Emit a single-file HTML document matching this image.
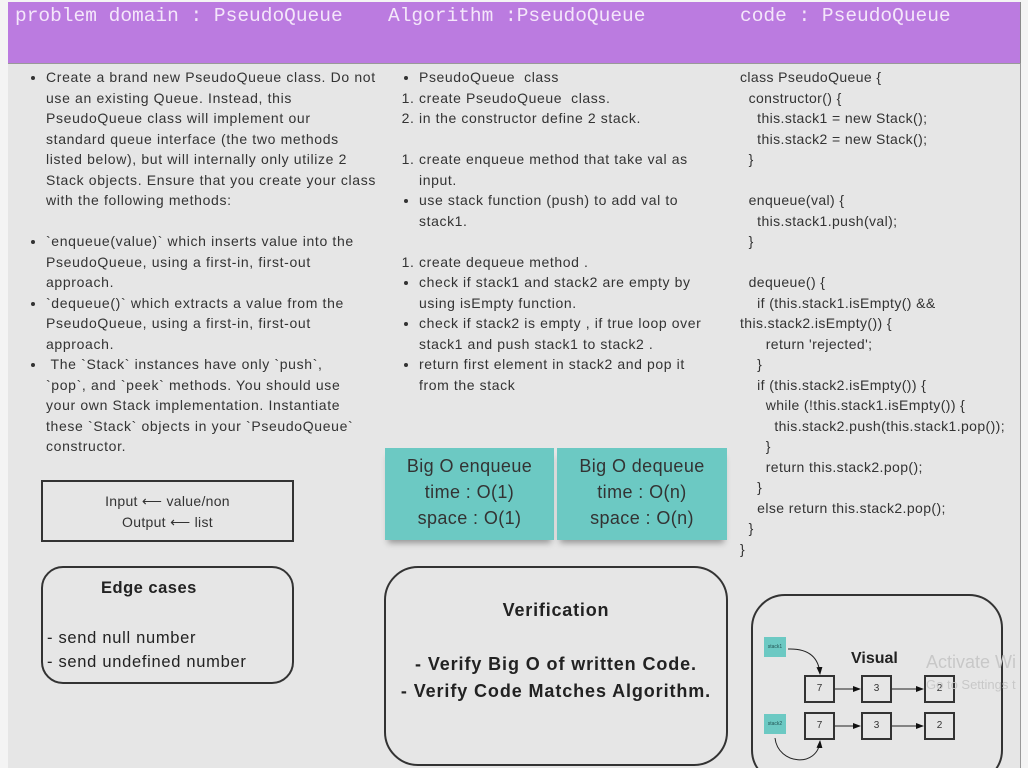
<!DOCTYPE html>
<html><head><meta charset="utf-8"><style>
*{margin:0;padding:0;box-sizing:border-box}
html,body{width:1028px;height:768px;overflow:hidden}
body{position:relative;background:#f4f4f4;font-family:"Liberation Sans",sans-serif;color:#333}
.a{position:absolute}
.hd{background:#bb7be0;top:2px;height:61px;color:#f4e6fa;font-family:"Liberation Mono",monospace;font-size:19.5px;padding:3px 0 0 7px;border-right:1px solid #8a8a8a}
.col{background:#e6e6e6;top:63px;height:705px;border-right:1px solid #999;border-top:1px solid #999}
.t{font-size:14px;line-height:20.5px;letter-spacing:0.6px}
ul,ol{padding-left:38px}
.box{border:2px solid #333}
.st{background:#6cc9c3;box-shadow:0 6px 6px -3px rgba(0,0,0,.35);text-align:center;font-size:18px;line-height:26px;color:#333;padding-top:5px;letter-spacing:0.4px}
.n{position:absolute;width:31px;height:28px;border:2px solid #333;font-size:10px;text-align:center;line-height:24px;background:#e6e6e6}
.sk{position:absolute;width:22px;height:20px;background:#6cc9c3;font-size:5px;text-align:center;line-height:20px;color:#255}
</style></head><body>
<div class="a col" style="left:8px;width:374px"></div>
<div class="a col" style="left:381px;width:353px"></div>
<div class="a col" style="left:733px;width:288px"></div>
<div class="a hd" style="left:8px;width:374px">problem domain : PseudoQueue</div>
<div class="a hd" style="left:381px;width:353px">Algorithm :PseudoQueue</div>
<div class="a hd" style="left:733px;width:288px">code : PseudoQueue</div>

<div class="a t" style="left:8px;top:67px;width:372px;letter-spacing:0.65px;white-space:nowrap">
<ul style="padding-left:38px;list-style:disc">
<li>Create a brand new PseudoQueue class. Do not<br>use an existing Queue. Instead, this<br>PseudoQueue class will implement our<br>standard queue interface (the two methods<br>listed below), but will internally only utilize 2<br>Stack objects. Ensure that you create your class<br>with the following methods:</li>
<li style="list-style:none">&nbsp;</li>
<li>`enqueue(value)` which inserts value into the<br>PseudoQueue, using a first-in, first-out<br>approach.</li>
<li>`dequeue()` which extracts a value from the<br>PseudoQueue, using a first-in, first-out<br>approach.</li>
<li>&nbsp;The `Stack` instances have only `push`,<br>`pop`, and `peek` methods. You should use<br>your own Stack implementation. Instantiate<br>these `Stack` objects in your `PseudoQueue`<br>constructor.</li>
</ul></div>

<div class="a box t" style="left:41px;top:480px;width:253px;height:62px;text-align:center;padding-top:9px;letter-spacing:0.3px">Input ⟵ value/non<br>Output ⟵ list</div>
<div class="a box" style="left:41px;top:566px;width:253px;height:118px;border-radius:22px;font-size:16.5px;color:#222;letter-spacing:0.7px">
<div style="position:absolute;left:58px;top:11px;font-weight:bold;letter-spacing:0.5px">Edge cases</div>
<div style="position:absolute;left:4px;top:58px;line-height:24px">- send null number<br>- send undefined number</div></div>

<div class="a t" style="left:381px;top:67px;width:336px">
<ul style="list-style:disc"><li>PseudoQueue &nbsp;class</li></ul>
<ol><li>create PseudoQueue &nbsp;class.</li><li>in the constructor define 2 stack.</li></ol>
<div>&nbsp;</div>
<ol><li>create enqueue method that take val as input.</li></ol>
<ul><li>use stack function (push) to add val to stack1.</li></ul>
<div>&nbsp;</div>
<ol><li>create dequeue method .</li></ol>
<ul><li>check if stack1 and stack2 are empty by using isEmpty function.</li><li>check if stack2 is empty , if true loop over stack1 and push stack1 to stack2 .</li><li>return first element in stack2 and pop it from the stack</li></ul>
</div>

<div class="a st" style="left:385px;top:448px;width:169px;height:92px">Big O enqueue<br>time : O(1)<br>space : O(1)</div>
<div class="a st" style="left:557px;top:448px;width:170px;height:92px">Big O dequeue<br>time : O(n)<br>space : O(n)</div>

<div class="a box" style="left:384px;top:566px;width:344px;height:200px;border-radius:34px;text-align:center;font-weight:bold;font-size:18px;color:#222;letter-spacing:0.9px">
<div style="margin-top:32px;letter-spacing:0.8px">Verification</div>
<div style="margin-top:30px;line-height:27px">- Verify Big O of written Code.<br>- Verify Code Matches Algorithm.</div></div>

<div class="a t" style="left:740px;top:67px;white-space:pre;color:#333;letter-spacing:0.4px">class PseudoQueue {
  constructor() {
    this.stack1 = new Stack();
    this.stack2 = new Stack();
  }

  enqueue(val) {
    this.stack1.push(val);
  }

  dequeue() {
    if (this.stack1.isEmpty() &amp;&amp;
this.stack2.isEmpty()) {
      return 'rejected';
    }
    if (this.stack2.isEmpty()) {
      while (!this.stack1.isEmpty()) {
        this.stack2.push(this.stack1.pop());
      }
      return this.stack2.pop();
    }
    else return this.stack2.pop();
  }
}</div>

<div class="a box" style="left:751px;top:594px;width:252px;height:190px;border-radius:34px"></div>
<div class="a" style="left:851px;top:650px;font-weight:bold;font-size:16px;color:#222">Visual</div>
<div class="sk" style="left:764px;top:637px">stack1</div>
<div class="sk" style="left:764px;top:714px">stack2</div>
<div class="n" style="left:804px;top:675px">7</div>
<div class="n" style="left:861px;top:675px">3</div>
<div class="n" style="left:924px;top:675px">2</div>
<div class="n" style="left:804px;top:712px">7</div>
<div class="n" style="left:861px;top:712px">3</div>
<div class="n" style="left:924px;top:712px">2</div>
<svg class="a" style="left:740px;top:590px" width="288" height="178">
<defs><marker id="m" markerWidth="8" markerHeight="8" refX="7" refY="4" orient="auto"><path d="M0,1 L8,4 L0,7z" fill="#111"/></marker></defs>
<g stroke="#222" fill="none" stroke-width="1">
<path d="M48,59 Q78,58 80,84" marker-end="url(#m)"/>
<path d="M35,148 C38,175 78,178 80,151" marker-end="url(#m)"/>
<path d="M95,99 L120,99" marker-end="url(#m)"/>
<path d="M152,99 L183,99" marker-end="url(#m)"/>
<path d="M95,136 L120,136" marker-end="url(#m)"/>
<path d="M152,136 L183,136" marker-end="url(#m)"/>
</g></svg>
<div class="a" style="left:926px;top:652px;font-size:18px;color:#c8c8c8;white-space:nowrap">Activate Wi</div>
<div class="a" style="left:926px;top:677px;font-size:13px;color:#c8c8c8;white-space:nowrap">Go to Settings t</div>
</body></html>
